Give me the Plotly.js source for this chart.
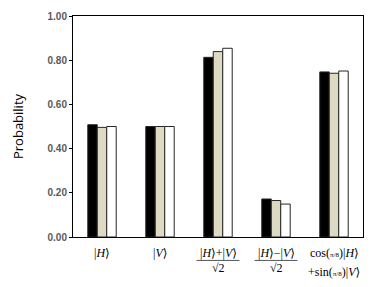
<!DOCTYPE html>
<html>
<head>
<meta charset="utf-8">
<script src="https://cdn.plot.ly/plotly-3.0.1.min.js"></script>
<style>html,body{margin:0;padding:0;background:#fff;}#chart{width:374px;height:287px;}</style>
</head>
<body>
<div id="chart"></div>
<script>
// Categories (quantum states)
var categories = ['|H⟩', '|V⟩', '(|H⟩+|V⟩)/√2', '(|H⟩−|V⟩)/√2', 'cos(π/8)|H⟩+sin(π/8)|V⟩'];
// Label pieces for display: numerator/first line, denominator/second line
var labelTop = ['|<i>H</i>⟩', '|<i>V</i>⟩', '|<i>H</i>⟩+|<i>V</i>⟩', '|<i>H</i>⟩−|<i>V</i>⟩', 'cos(<span style="font-size:7px">π/8</span>)|<i>H</i>⟩'];
var labelBottom = ['', '', '√2', '√2', '+sin(<span style="font-size:7px">π/8</span>)|<i>V</i>⟩'];
var isFraction = [false, false, true, true, false];

// Series values
var series1 = [0.508, 0.500, 0.813, 0.172, 0.747];
var series2 = [0.496, 0.500, 0.839, 0.165, 0.741];
var series3 = [0.500, 0.500, 0.854, 0.149, 0.751];
var seriesNames = ['Series 1', 'Series 2', 'Series 3'];
var seriesColors = ['#000000', '#ddd9c3', '#ffffff'];

var yTicks = [0, 0.2, 0.4, 0.6, 0.8, 1.0];

var allSeries = [series1, series2, series3];
var traces = allSeries.map(function (vals, i) {
  return {
    type: 'bar',
    x: categories,
    y: vals,
    name: seriesNames[i],
    marker: { color: seriesColors[i], line: { color: '#262626', width: 1 } },
    hoverinfo: 'y'
  };
});

var serif = '"Liberation Serif", "DejaVu Serif", serif';
var annotations = [];
var shapes = [];
categories.forEach(function (c, i) {
  annotations.push({
    x: c, xref: 'x', y: 0, yref: 'paper', yanchor: 'middle', yshift: -16,
    text: labelTop[i], showarrow: false,
    font: { family: serif, size: 12, color: '#000' }
  });
  if (labelBottom[i]) {
    annotations.push({
      x: c, xref: 'x', y: 0, yref: 'paper', yanchor: 'middle',
      yshift: isFraction[i] ? -31 : -35,
      text: labelBottom[i], showarrow: false,
      font: { family: serif, size: 12, color: '#000' }
    });
  }
  if (isFraction[i]) {
    shapes.push({
      type: 'line', xref: 'x', yref: 'paper',
      x0: i - 0.37, x1: i + 0.37, y0: -0.106, y1: -0.106,
      line: { color: '#555', width: 1 }
    });
  }
});

var layout = {
  width: 374, height: 287,
  margin: { l: 73, r: 11, t: 16, b: 50 },
  paper_bgcolor: '#fff', plot_bgcolor: '#fff',
  barmode: 'group', bargap: 0.51, bargroupgap: 0,
  showlegend: false,
  xaxis: {
    type: 'category', showticklabels: false, ticks: '',
    showline: true, linecolor: '#000', linewidth: 1, mirror: true,
    showgrid: false, zeroline: false, range: [-0.5, 4.5]
  },
  yaxis: {
    range: [0, 1], tickvals: yTicks, tickformat: '.2f',
    ticks: 'outside', ticklen: 3, tickcolor: '#000',
    tickfont: { family: '"Liberation Sans", Arial, sans-serif', size: 10, color: '#595959', weight: 'bold' },
    showline: true, linecolor: '#000', linewidth: 1, mirror: true,
    showgrid: false, zeroline: false,
    title: { text: 'Probability', standoff: 20, font: { family: '"Open Sans", "Liberation Sans", sans-serif', size: 13, color: '#000' } }
  },
  annotations: annotations,
  shapes: shapes
};

Plotly.newPlot('chart', traces, layout, { displayModeBar: false, staticPlot: true });
</script>
</body>
</html>
